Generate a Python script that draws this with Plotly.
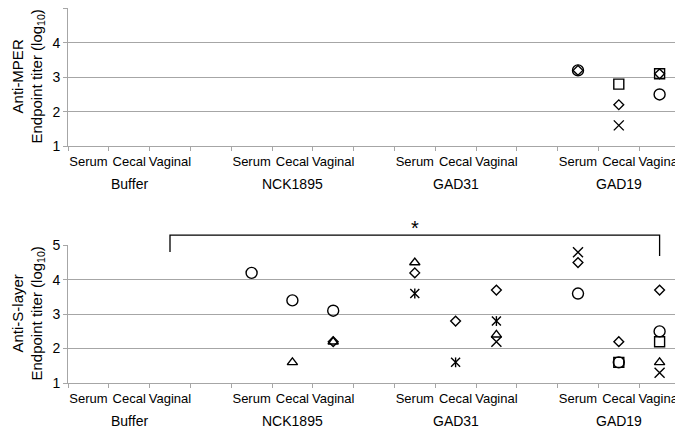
import plotly.graph_objects as go

groups = ["Buffer", "NCK1895", "GAD31", "GAD19"]
samples = ["Serum", "Cecal", "Vaginal"]

# one value per column: Buffer S,C,V | NCK1895 S,C,V | GAD31 S,C,V | GAD19 S,C,V
mper_circle = [None, None, None, None, None, None, None, None, None, 3.2, None, 2.5]
mper_diamond = [None, None, None, None, None, None, None, None, None, 3.2, 2.2, 3.1]
mper_square = [None, None, None, None, None, None, None, None, None, None, 2.8, 3.1]
mper_x = [None, None, None, None, None, None, None, None, None, None, 1.6, None]

slayer_circle = [None, None, None, 4.2, 3.4, 3.1, None, None, None, 3.6, 1.6, 2.5]
slayer_diamond = [None, None, None, None, None, 2.2, 4.2, 2.8, 3.7, 4.5, 2.2, 3.7]
slayer_triangle = [None, None, None, None, 1.6, 2.2, 4.5, None, 2.4, None, None, 1.6]
slayer_square = [None, None, None, None, None, None, None, None, None, None, 1.6, 2.2]
slayer_x = [None, None, None, None, None, None, None, None, 2.2, 4.8, None, 1.3]
slayer_star = [None, None, None, None, None, None, 3.6, 1.6, 2.8, None, None, None]

panel_titles = ["Anti-MPER", "Anti-S-layer"]
y_title = "Endpoint titer (log<sub>10</sub>)"

# significance bracket between Buffer vaginal and GAD19 vaginal
bracket_from = ("Buffer", "Vaginal")
bracket_to = ("GAD19", "Vaginal")

FONT = "Arial, Liberation Sans, sans-serif"
GRID = "#a6a6a6"

# x position: 3 sample slots + one empty slot per group
def xpos(g, s):
    return groups.index(g) * 4 + samples.index(s) + 0.5

cols = [(g, s) for g in groups for s in samples]
xs = [xpos(g, s) for g, s in cols]

marker_styles = {
    "circle": dict(symbol="circle-open", size=11),
    "diamond": dict(symbol="diamond-open", size=7.5),
    "square": dict(symbol="square-open", size=10),
    "triangle": dict(symbol="triangle-up-open", size=9),
    "x": dict(symbol="x-thin-open", size=10),
}

fig = go.Figure()

def add_series(vals, kind, row):
    xa, ya = ("x", "y") if row == 1 else ("x2", "y2")
    px = [x for x, v in zip(xs, vals) if v is not None]
    py = [v for v in vals if v is not None]
    if kind == "star":
        parts = [dict(symbol="x-thin-open", size=9), dict(symbol="line-ns-open", size=7)]
    else:
        parts = [marker_styles[kind]]
    for m in parts:
        fig.add_trace(go.Scatter(
            x=px, y=py, mode="markers", xaxis=xa, yaxis=ya, showlegend=False,
            marker=dict(color="black", line=dict(color="black", width=1.4), **m),
        ))

add_series(mper_circle, "circle", 1)
add_series(mper_diamond, "diamond", 1)
add_series(mper_square, "square", 1)
add_series(mper_x, "x", 1)

add_series(slayer_circle, "circle", 2)
add_series(slayer_diamond, "diamond", 2)
add_series(slayer_triangle, "triangle", 2)
add_series(slayer_square, "square", 2)
add_series(slayer_x, "x", 2)
add_series(slayer_star, "star", 2)

# the page body has an 8px margin, so the figure is drawn from (8, 8)
OFF = 8
W, H = 683 - OFF, 431 - OFF
x_dom = [(68 - OFF) / W, (680 - OFF) / W]
top_dom = [1 - (146 - OFF) / H, 1.0]
bot_dom = [1 - (383 - OFF) / H, 1 - (245 - OFF) / H]

xaxis_common = dict(
    domain=x_dom, range=[0, 15], showgrid=False, zeroline=False, automargin=False,
    showline=True, linecolor=GRID, linewidth=1,
    tickvals=xs, ticktext=[s for g, s in cols], ticks="", ticklen=0,
    ticklabelstandoff=3,
    tickfont=dict(family=FONT, size=13, color="black"),
    minor=dict(tickvals=list(range(16)), ticks="outside", ticklen=4,
               tickcolor=GRID, showgrid=False),
)
yaxis_common = dict(
    tickvals=[1, 2, 3, 4, 5], showgrid=True, gridcolor=GRID, gridwidth=1,
    automargin=False, zeroline=False, showline=True, linecolor=GRID,
    ticks="outside", ticklen=4, tickcolor=GRID,
    tickfont=dict(family=FONT, size=14, color="black"),
)

fig.update_layout(
    width=W, height=H, margin=dict(l=0, r=0, t=0, b=0),
    plot_bgcolor="white", paper_bgcolor="white",
    xaxis=dict(anchor="y", **xaxis_common),
    xaxis2=dict(anchor="y2", **xaxis_common),
    yaxis=dict(domain=top_dom, anchor="x", range=[1, 5.015], **yaxis_common),
    yaxis2=dict(domain=bot_dom, anchor="x2", range=[1, 5.01], **yaxis_common),
)

# two-line y titles, placed left of the tick labels
for dom, name in ((top_dom, panel_titles[0]), (bot_dom, panel_titles[1])):
    fig.add_annotation(
        x=0, y=(dom[0] + dom[1]) / 2, xref="paper", yref="paper",
        text=f"{name}<br>{y_title}", textangle=-90, showarrow=False,
        xanchor="left", yanchor="middle", xshift=-2,
        font=dict(family=FONT, size=15, color="black"),
    )

# group labels under each panel
for xa, ya in (("x", "y"), ("x2", "y2")):
    for g in groups:
        fig.add_annotation(
            x=xpos(g, "Cecal"), y=0, xref=xa, yref=ya + " domain",
            text=g, showarrow=False, yanchor="middle", yshift=-38,
            font=dict(family=FONT, size=14, color="black"),
        )

# bracket with asterisk above the S-layer panel
x0 = xpos(*bracket_from)
x1 = xpos(*bracket_to)
fig.add_shape(type="path", xref="x2", yref="y2 domain",
              path=f"M {x0} 0.95 L {x0} 1.072 L {x1} 1.072 L {x1} 0.92",
              line=dict(color="black", width=1.3))
fig.add_annotation(x=(x0 + x1) / 2, y=1.072, xref="x2", yref="y2 domain",
                   text="*", showarrow=False, yanchor="bottom", yshift=-6,
                   font=dict(family=FONT, size=20, color="black"))

fig.write_html("out.html")
